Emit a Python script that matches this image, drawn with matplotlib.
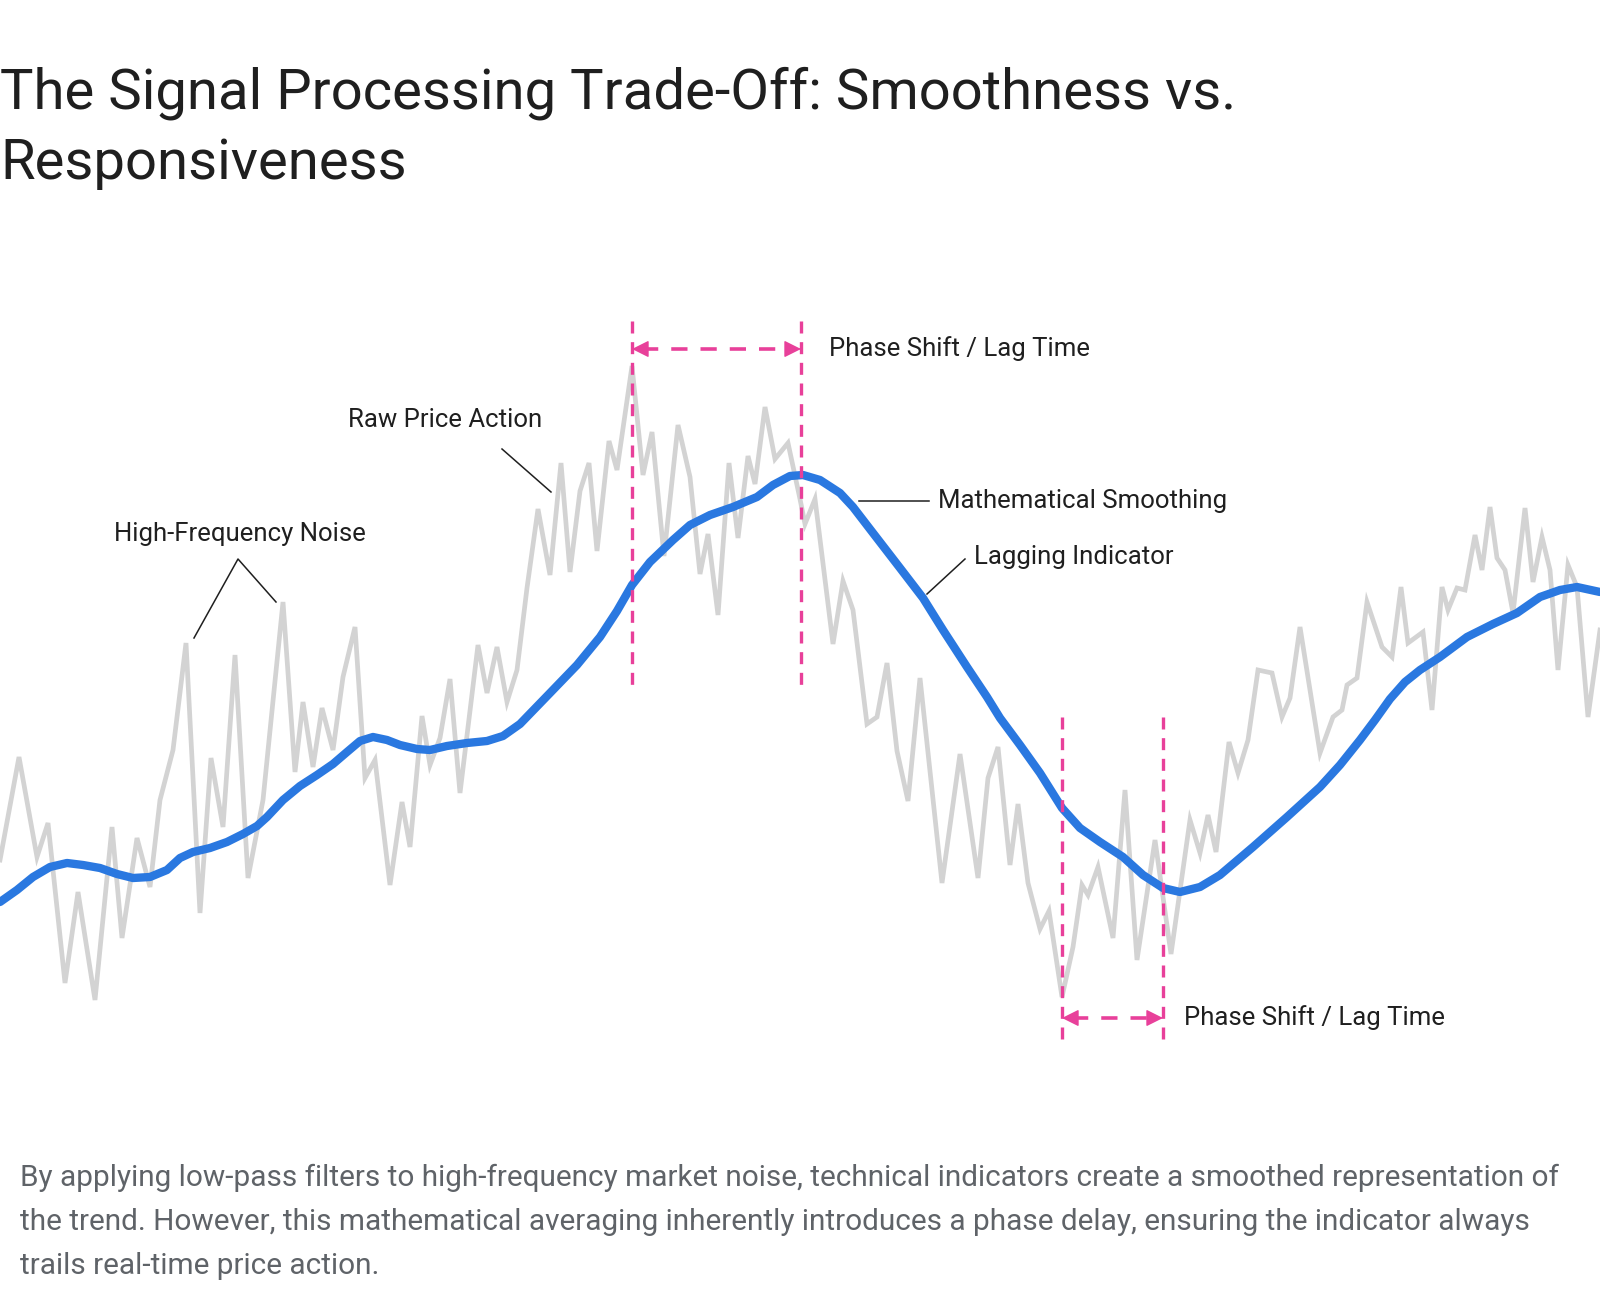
import matplotlib.pyplot as plt

plt.rcParams['font.family'] = ['Roboto', 'DejaVu Sans']

# raw price action (time, price)
raw_t = [0.0, 1.9, 3.7, 4.8, 6.5, 7.8, 9.5, 11.2, 12.2, 13.7, 15.0, 16.0, 17.3, 18.6, 20.0,
         21.1, 22.3, 23.5, 24.8, 26.3, 28.3, 29.5, 30.3, 31.3, 32.2, 33.3, 34.3, 35.5, 36.5,
         37.5, 39.0, 40.2, 41.0, 42.2, 43.0, 44.0, 45.0, 46.0, 47.8, 48.7, 49.7, 50.7, 51.7,
         52.7, 53.8, 55.0, 56.1, 57.0, 58.0, 58.9, 59.7, 60.9, 61.7, 63.2, 64.3, 65.2, 66.4,
         67.8, 69.0, 70.0, 70.8, 71.8, 72.9, 73.8, 74.8, 75.5, 76.5, 77.5, 78.8, 80.0, 80.5,
         81.5, 83.3, 84.3, 85.3, 86.7, 87.7, 88.7, 89.7, 90.8, 92.0, 94.2, 96.0, 97.8, 98.8,
         99.8, 101.0, 101.8, 102.8, 104.0, 104.9, 106.2, 107.3, 108.2, 108.8, 109.8, 111.3,
         112.5, 113.7, 115.5, 117.1, 119.0, 120.0, 120.8, 121.6, 122.9, 123.8, 124.8, 125.8,
         127.2, 128.2, 129.0, 130.0, 132.0, 133.3, 134.2, 134.7, 135.7, 136.7, 138.2, 139.2,
         140.1, 140.8, 142.3, 143.2, 144.2, 144.8, 145.7, 146.5, 147.5, 148.2, 149.0, 149.7,
         150.5, 151.3, 152.5, 153.3, 154.2, 155.0, 155.8, 156.8, 157.7, 158.8, 160.0]
raw_price = [24.0, 34.3, 24.3, 27.7, 11.7, 20.8, 10.0, 27.3, 16.2, 26.2, 21.3, 30.0, 35.0, 45.7, 18.7,
             34.2, 27.3, 44.5, 22.2, 30.0, 49.8, 32.8, 39.8, 33.3, 39.2, 35.0, 42.3, 47.3, 32.2,
             34.0, 21.5, 29.8, 25.3, 38.4, 33.5, 36.2, 42.1, 30.7, 45.5, 40.7, 45.3, 39.8, 43.0,
             51.2, 59.1, 52.5, 63.7, 52.8, 60.9, 63.7, 54.9, 65.9, 63.0, 73.4, 62.5, 66.8, 54.4,
             67.5, 62.3, 52.6, 56.6, 48.5, 63.7, 56.2, 64.4, 61.6, 69.3, 64.1, 65.7, 60.1, 57.6,
             60.1, 45.6, 51.9, 49.0, 37.6, 38.3, 43.7, 34.9, 29.9, 42.2, 21.7, 34.6, 22.2, 32.2,
             35.3, 23.5, 29.6, 21.7, 17.1, 18.9, 10.3, 15.3, 21.5, 20.5, 23.3, 16.2,
             31.0, 14.0, 26.0, 14.6, 28.0, 24.7, 28.5, 24.8, 35.8, 32.7, 36.0, 43.0,
             42.7, 38.3, 40.2, 47.3, 34.7, 38.3, 39.0, 41.5, 42.2, 49.8, 45.3, 44.3,
             51.3, 45.7, 46.8, 39.0, 51.3, 49.0, 51.2, 51.0, 56.5, 53.0, 59.3, 54.2,
             53.0, 48.7, 59.2, 51.8, 56.3, 53.0, 43.0, 53.5, 51.3, 38.3, 47.0]

# smoothed indicator
smooth_t = [0.0, 1.7, 3.3, 5.0, 6.7, 8.3, 10.0, 11.7, 13.3, 15.0, 16.7, 18.0, 19.3, 21.0, 22.7,
            24.3, 25.7, 26.7, 28.3, 30.0, 31.7, 33.3, 34.7, 36.0, 37.3, 38.7, 40.0, 41.7, 43.0,
            44.7, 46.7, 48.7, 50.3, 52.0, 55.0, 57.7, 60.0, 61.7, 63.2, 65.0, 67.3, 69.0, 71.0,
            73.3, 75.7, 77.3, 79.0, 80.3, 82.0, 84.0, 85.3, 87.3, 90.0, 92.3, 94.3, 96.7, 98.7,
            100.0, 102.0, 104.0, 106.2, 108.0, 110.0, 112.3, 114.3, 116.3, 118.0, 120.0, 122.0,
            125.3, 128.7, 132.0, 134.0, 136.0, 137.5, 139.0, 140.5, 142.0, 144.0, 146.7, 149.3,
            151.7, 154.0, 156.0, 157.7, 160.0]
smooth_price = [19.8, 21.0, 22.3, 23.3, 23.7, 23.5, 23.2, 22.6, 22.2, 22.3, 23.0, 24.2, 24.8, 25.2, 25.8,
                26.6, 27.4, 28.3, 30.0, 31.4, 32.5, 33.6, 34.8, 35.9, 36.3, 36.0, 35.5, 35.1, 35.0,
                35.4, 35.7, 35.9, 36.4, 37.6, 40.7, 43.5, 46.3, 48.9, 51.5, 53.8, 56.0, 57.5, 58.5,
                59.3, 60.3, 61.5, 62.4, 62.5, 62.0, 60.7, 59.3, 56.7, 53.2, 50.2, 47.0, 43.3, 40.3,
                38.2, 35.5, 32.7, 29.2, 27.2, 25.8, 24.3, 22.5, 21.2, 20.8, 21.3, 22.5,
                25.3, 28.3, 31.3, 33.5, 36.0, 38.0, 40.1, 41.8, 43.0, 44.3, 46.3, 47.6,
                48.7, 50.3, 51.0, 51.3, 50.8]

# lag markers: (start, end, line top, line bottom, arrow level)
lag_peak = (63.2, 80.1, 77.9, 40.8, 75.1)
lag_trough = (106.2, 116.3, 38.3, 5.7, 8.2)

pink = '#e8409a'
ink = '#1f1f1f'

fig = plt.figure(figsize=(16, 12.98), dpi=100)
ax = fig.add_axes([0, 0, 1, 1])
ax.set_xlim(0, 160)
ax.set_ylim(-19.8, 110)
ax.axis('off')

ax.plot(raw_t, raw_price, color='#d3d3d3', lw=3.4, solid_joinstyle='miter', zorder=2)
ax.plot(smooth_t, smooth_price, color='#2a78e0', lw=6, solid_capstyle='round',
        solid_joinstyle='round', zorder=3)

for x0, x1, top, bot, ya in (lag_peak, lag_trough):
    for xv in (x0, x1):
        ax.plot([xv, xv], [top, bot], color=pink, lw=2.4, dashes=(3.6, 2.6), zorder=4)
    ax.plot([x0 + 1.0, x1 - 1.0], [ya, ya], color=pink, lw=2.6, dashes=(4.5, 3.6), zorder=4)
    for a, b in ((x0 + 1.4, x0), (x1 - 1.4, x1)):
        ax.annotate('', xy=(b, ya), xytext=(a, ya),
                    arrowprops=dict(arrowstyle='-|>', color=pink, lw=1, mutation_scale=26,
                                    shrinkA=0, shrinkB=0), zorder=5)

fs = 18.5
ax.text(82.9, 75.1, 'Phase Shift / Lag Time', fontsize=fs, color=ink, va='center')
ax.text(118.4, 8.2, 'Phase Shift / Lag Time', fontsize=fs, color=ink, va='center')

ax.text(34.8, 68.0, 'Raw Price Action', fontsize=fs, color=ink, va='center')
ax.plot([50.2, 55.1], [65.1, 60.8], color=ink, lw=1.1)

ax.text(11.4, 56.6, 'High-Frequency Noise', fontsize=fs, color=ink, va='center')
ax.plot([19.4, 23.8, 27.6], [46.2, 54.1, 49.8], color=ink, lw=1.1)

ax.text(93.8, 59.9, 'Mathematical Smoothing', fontsize=fs, color=ink, va='center')
ax.plot([85.9, 92.9], [59.9, 59.9], color=ink, lw=1.1)

ax.text(97.4, 54.3, 'Lagging Indicator', fontsize=fs, color=ink, va='center')
ax.plot([92.7, 96.5], [50.6, 54.1], color=ink, lw=1.1)

fig.text(0.0, 1 - 93 / 1298, 'The Signal Processing Trade-Off: Smoothness vs.',
         fontsize=40.5, color='#1f1f1f', va='center', ha='left')
fig.text(0.0, 1 - 164 / 1298, 'Responsiveness',
         fontsize=40.5, color='#1f1f1f', va='center', ha='left')

caption = ['By applying low-pass filters to high-frequency market noise, technical indicators create a smoothed representation of',
           'the trend. However, this mathematical averaging inherently introduces a phase delay, ensuring the indicator always',
           'trails real-time price action.']
for i, line in enumerate(caption):
    fig.text(20 / 1600, 1 - (1178 + 44 * i) / 1298, line, fontsize=21.4, color='#5f6368',
             va='center', ha='left')

fig.savefig('out.png', dpi=100, facecolor='white')
